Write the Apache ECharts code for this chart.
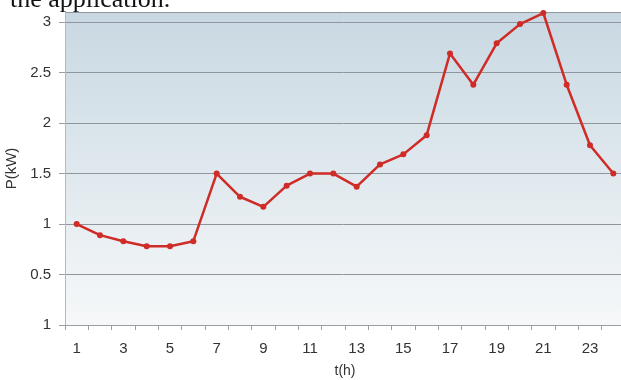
<!DOCTYPE html>
<html>
<head>
<meta charset="utf-8">
<script src="https://cdn.jsdelivr.net/npm/echarts@6/dist/echarts.min.js"></script>
<style>
  html, body { margin: 0; padding: 0; background: #fff; }
  #chart { width: 621px; height: 380px; }
</style>
</head>
<body>
<div id="chart"></div>
<script>
// hours of the day
const hours = Array.from({ length: 24 }, (_, i) => String(i + 1))
// load profile, kW
const power = [1.0, 0.89, 0.83, 0.78, 0.78, 0.83, 1.5, 1.27, 1.17, 1.38, 1.5, 1.5,
  1.37, 1.59, 1.69, 1.88, 2.69, 2.38, 2.79, 2.98, 3.09, 2.38, 1.78, 1.5]
// y tick labels as printed (bottom one reads "1" in the source)
const yTickLabels = ['1', '0.5', '1', '1.5', '2', '2.5', '3']

const chart = echarts.init(document.getElementById('chart'), null, { renderer: 'canvas' })

const axisFont = { color: '#333', fontSize: 15, fontFamily: 'Liberation Sans, Arial, sans-serif' }

chart.setOption({
  animation: false,
  graphic: [{
    type: 'text',
    left: 10,
    top: -13,
    style: { text: 'the application.', fill: '#111', font: '26px "Liberation Serif", serif' },
  }],
  grid: {
    show: true,
    left: 65, top: 12, right: -4, bottom: 55,
    outerBoundsMode: 'none',
    containLabel: false,
    borderWidth: 0,
    backgroundColor: new echarts.graphic.LinearGradient(0, 0, 0, 1, [
      { offset: 0, color: '#c8d8e2' },
      { offset: 1, color: '#f6f8f9' },
    ]),
  },
  xAxis: {
    type: 'category',
    data: hours,
    boundaryGap: true,
    name: 't(h)',
    nameLocation: 'middle',
    nameGap: 39,
    nameTextStyle: { ...axisFont, fontSize: 14 },
    axisLine: { lineStyle: { color: '#9a9fa4' } },
    axisTick: { show: true, interval: 0, length: 5, lineStyle: { color: '#9a9fa4' } },
    axisLabel: { ...axisFont, interval: 1, margin: 16 },
    splitLine: { show: false },
  },
  yAxis: {
    type: 'value',
    min: 0, max: 3.1, interval: 0.5,
    name: 'P(kW)',
    nameLocation: 'middle',
    nameGap: 35,
    nameRotate: 90,
    nameTextStyle: { ...axisFont, fontSize: 15 },
    axisLine: { show: true, lineStyle: { color: '#b4b9be' } },
    axisTick: { show: true, length: 6, lineStyle: { color: '#9a9fa4' } },
    axisLabel: {
      ...axisFont,
      margin: 14,
      showMaxLabel: false,
      formatter: v => yTickLabels[Math.round(v / 0.5)] ?? '',
    },
    splitLine: { lineStyle: { color: '#8e959c', width: 1 } },
  },
  series: [{
    type: 'line',
    data: power,
    symbol: 'circle',
    symbolSize: 6,
    lineStyle: { color: '#cf2b27', width: 2.5 },
    itemStyle: { color: '#cf2b27' },
  }],
})
</script>
</body>
</html>
